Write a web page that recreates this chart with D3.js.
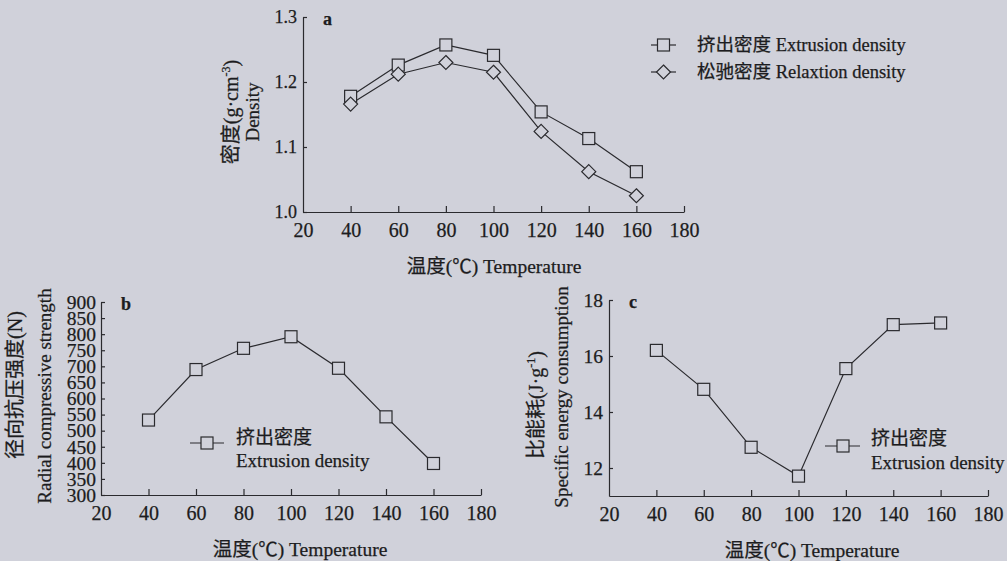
<!DOCTYPE html>
<html>
<head>
<meta charset="utf-8">
<title>Extrusion temperature panels</title>
<script src="https://d3js.org/d3.v7.min.js"></script>
<style>
  body { margin: 0; background: #d0d1da; }
  text { fill: #1c1c20; stroke: #1c1c20; stroke-width: 0.25px; }
</style>
</head>
<body>
<svg id="chart"></svg>
<script>
// temperature (°C)
const temps = [40, 60, 80, 100, 120, 140, 160];
const xTicks = [20, 40, 60, 80, 100, 120, 140, 160, 180];

// a: density (g·cm-3)
const extrusionDensity = [1.178, 1.226, 1.257, 1.241, 1.154, 1.113, 1.062];
const relaxationDensity = [1.166, 1.212, 1.230, 1.215, 1.124, 1.062, 1.025];
const densityTicks = [1.0, 1.1, 1.2, 1.3];

// b: radial compressive strength (N)
const radialStrength = [533, 690, 756, 792, 694, 543, 398];
const strengthTicks = [300, 350, 400, 450, 500, 550, 600, 650, 700, 750, 800, 850, 900];

// c: specific energy consumption (J·g-1)
const specificEnergy = [16.2, 14.81, 12.74, 11.71, 15.55, 17.12, 17.18];
const energyTicks = [12, 14, 16, 18];

const W = 1007, H = 561;
const serif = "'Liberation Serif', 'Times New Roman', 'Noto Sans CJK SC', serif";
const ink = "#2a2a2e";
const bg = "#d0d1da";

const svg = d3.select("#chart").attr("width", W).attr("height", H)
  .style("font-family", serif);

svg.append("rect").attr("width", W).attr("height", H).attr("fill", bg);

function square(g, x, y) {
  g.append("rect").attr("x", x - 6).attr("y", y - 6).attr("width", 12).attr("height", 12)
    .attr("fill", bg).attr("stroke", ink).attr("stroke-width", 1.2);
}
function diamond(g, x, y) {
  g.append("path").attr("d", `M${x},${y - 7}L${x + 7},${y}L${x},${y + 7}L${x - 7},${y}Z`)
    .attr("fill", bg).attr("stroke", ink).attr("stroke-width", 1.2);
}

function panel(p) {
  const g = svg.append("g");
  const x = d3.scaleLinear().domain([20, 180]).range([p.left, p.right]);
  const y = d3.scaleLinear().domain(p.yDomain).range([p.bottom, p.top]);

  // x axis, ticks pointing up
  const xa = g.append("g").attr("transform", `translate(0,${p.bottom})`)
    .call(d3.axisBottom(x).tickValues(xTicks).tickSizeInner(-6).tickSizeOuter(0).tickPadding(11));
  xa.selectAll(".tick").filter(d => d === 20).select("line").remove();
  xa.selectAll("text").attr("font-size", 20);

  // y axis, ticks pointing right
  const ya = g.append("g").attr("transform", `translate(${p.left},0)`)
    .call(d3.axisLeft(y).tickValues(p.yTicks).tickFormat(p.fmt).tickSizeInner(-4).tickSizeOuter(0).tickPadding(p.yPad));
  ya.selectAll("text").attr("font-size", p.yFont);

  g.selectAll(".domain, .tick line").attr("stroke", ink).attr("stroke-width", 1.2);
  g.selectAll(".tick text").style("font-family", serif).attr("fill", "#1c1c20");

  // panel letter
  g.append("text").attr("x", p.left + 20).attr("y", p.top + 8)
    .attr("font-size", 18).attr("font-weight", "bold").text(p.letter);

  // x title
  g.append("text").attr("x", p.titleX).attr("y", p.bottom + 61)
    .attr("text-anchor", "middle").attr("font-size", 19.5)
    .text("温度(℃) Temperature");

  const line = d3.line().x(d => x(d[0])).y(d => y(d[1]));
  p.series.forEach(s => {
    const pts = temps.map((t, i) => [t, s.values[i]]);
    g.append("path").datum(pts).attr("d", line)
      .attr("fill", "none").attr("stroke", ink).attr("stroke-width", 1.2);
  });
  p.series.forEach(s => {
    temps.forEach((t, i) => s.marker(g, x(t), y(s.values[i])));
  });
  return g;
}

// ---- a ----
const ga = panel({
  left: 303, right: 684, top: 17, bottom: 212,
  yDomain: [1.0, 1.3], yTicks: densityTicks, fmt: d3.format(".1f"),
  yFont: 18, yPad: 6, letter: "a", titleX: 494,
  series: [
    { values: extrusionDensity, marker: square },
    { values: relaxationDensity, marker: diamond }
  ]
});
let t = ga.append("text").attr("transform", "translate(238,112) rotate(-90)")
  .attr("text-anchor", "middle").attr("font-size", 20);
t.append("tspan").text("密度(g·cm");
t.append("tspan").attr("font-size", 12).attr("dy", -8).text("-3");
t.append("tspan").attr("dy", 8).text(")");
ga.append("text").attr("transform", "translate(259,112) rotate(-90)")
  .attr("text-anchor", "middle").attr("font-size", 19).text("Density");

// legend a
[["挤出密度 Extrusion density", square, 45], ["松驰密度 Relaxtion density", diamond, 72]].forEach(([label, mk, ly]) => {
  ga.append("line").attr("x1", 651).attr("x2", 676).attr("y1", ly).attr("y2", ly)
    .attr("stroke", ink).attr("stroke-width", 1.2);
  mk(ga, 663.5, ly);
  ga.append("text").attr("x", 697).attr("y", ly + 6).attr("font-size", 18.5).text(label);
});

// ---- b ----
const gb = panel({
  left: 101, right: 481, top: 302, bottom: 495,
  yDomain: [300, 900], yTicks: strengthTicks, fmt: d3.format("d"),
  yFont: 19.5, yPad: 5, letter: "b", titleX: 300,
  series: [{ values: radialStrength, marker: square }]
});
gb.append("text").attr("transform", "translate(22,385) rotate(-90)")
  .attr("text-anchor", "middle").attr("font-size", 20).text("径向抗压强度(N)");
gb.append("text").attr("transform", "translate(51,396) rotate(-90)")
  .attr("text-anchor", "middle").attr("font-size", 19).text("Radial compressive strength");
gb.append("line").attr("x1", 190).attr("x2", 224).attr("y1", 443).attr("y2", 443)
  .attr("stroke", ink).attr("stroke-width", 1.2);
square(gb, 207, 443);
gb.append("text").attr("x", 236).attr("y", 444).attr("font-size", 19).text("挤出密度");
gb.append("text").attr("x", 236).attr("y", 467).attr("font-size", 19).text("Extrusion density");

// ---- c ----
const gc = panel({
  left: 609, right: 988, top: 300, bottom: 496,
  yDomain: [11, 18], yTicks: energyTicks, fmt: d3.format("d"),
  yFont: 19.5, yPad: 6, letter: "c", titleX: 812,
  series: [{ values: specificEnergy, marker: square }]
});
t = gc.append("text").attr("transform", "translate(543,405) rotate(-90)")
  .attr("text-anchor", "middle").attr("font-size", 20);
t.append("tspan").text("比能耗(J·g");
t.append("tspan").attr("font-size", 12).attr("dy", -8).text("-1");
t.append("tspan").attr("dy", 8).text(")");
gc.append("text").attr("transform", "translate(568,397) rotate(-90)")
  .attr("text-anchor", "middle").attr("font-size", 19).text("Specific energy consumption");
gc.append("line").attr("x1", 825).attr("x2", 860).attr("y1", 446).attr("y2", 446)
  .attr("stroke", ink).attr("stroke-width", 1.2);
square(gc, 843, 446);
gc.append("text").attr("x", 871).attr("y", 445).attr("font-size", 19).text("挤出密度");
gc.append("text").attr("x", 871).attr("y", 469).attr("font-size", 19).text("Extrusion density");
</script>
</body>
</html>
